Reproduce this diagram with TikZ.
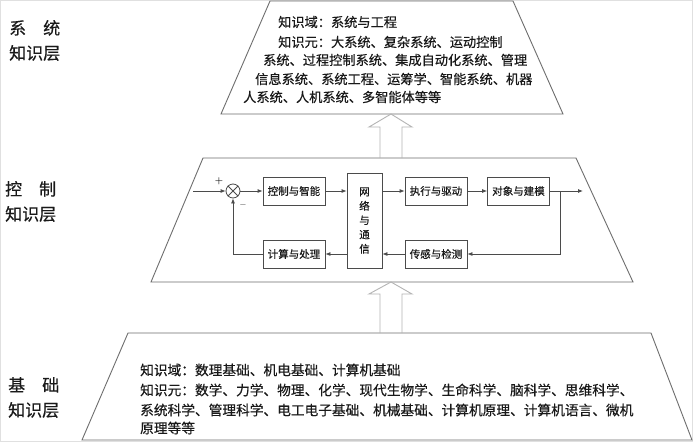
\documentclass[tikz,border=0pt]{standalone}
\usepackage{fontspec}
\newfontfamily\cjk[FakeBold=0.4]{Noto Sans CJK SC}
\usetikzlibrary{arrows.meta, positioning}
\definecolor{lngray}{RGB}{75, 75, 75}
\definecolor{edgegray}{RGB}{110, 110, 110}
\definecolor{hollowgray}{RGB}{180, 180, 180}
\definecolor{txtgray}{RGB}{25, 25, 25}

\begin{document}
\begin{tikzpicture}[x=1pt, y=-1pt,
  layer/.style={draw=edgegray, line width=0.9pt},
  blk/.style={draw=lngray, line width=0.8pt, font=\cjk\fontsize{10.5}{12}\selectfont, text=txtgray, minimum width=62pt, minimum height=28pt, inner sep=0pt},
  arr/.style={-{Latex[length=5pt, width=4pt]}, draw=lngray, line width=0.8pt},
  info/.style={anchor=west, inner sep=0pt, font=\cjk\fontsize{13.2}{15}\selectfont, text=txtgray},
  side/.style={anchor=west, inner sep=0pt, align=left, font=\cjk\fontsize{17}{25}\selectfont, text=txtgray},
  uparr/.style={draw=hollowgray, line width=0.9pt},
]
  \useasboundingbox (0,0) rectangle (693,442);
  \fill[white] (0,0) rectangle (693,442);
  \draw[black!12] (0.5,0.5) rectangle (692.5,441.5);

  % three layers
  \draw[layer] (270,1) -- (513,1) -- (563,114) -- (221,114) -- cycle;
  \draw[layer] (203,158) -- (576,158) -- (633,282) -- (151,282) -- cycle;
  \draw[layer] (82,440) -- (128,333) -- (651,333) -- (692,440) -- cycle;

  % hollow arrows between layers
  \draw[uparr] (380,158) -- (380,127) -- (369,127) -- (391,114) -- (412,127) -- (402,127) -- (402,158);
  \draw[uparr] (380,333) -- (380,294) -- (369,294) -- (391,282) -- (412,294) -- (402,294) -- (402,333);

  % layer names
  \node[side] (sysname)  at (9,40.5)  {系\hspace{1em}统\\知识层};
  \node[side] (ctlname)  at (5,201.5) {控\hspace{1em}制\\知识层};
  \node[side] (basename) at (8,397.5) {基\hspace{1em}础\\知识层};

  % system layer text
  \node[info] (sys1) at (278,22) {知识域：系统与工程};
  \node[info] (sys2) at (278,42) {知识元：大系统、复杂系统、运动控制};
  \node[info] (sys3) at (263,60) {系统、过程控制系统、集成自动化系统、管理};
  \node[info] (sys4) at (255,79) {信息系统、系统工程、运筹学、智能系统、机器};
  \node[info] (sys5) at (243,97) {人系统、人机系统、多智能体等等};

  % base layer text
  \node[info, font=\cjk\fontsize{13.7}{15}\selectfont] (base1) at (140,370) {知识域：数理基础、机电基础、计算机基础};
  \node[info, font=\cjk\fontsize{13.7}{15}\selectfont] (base2) at (140,390) {知识元：数学、力学、物理、化学、现代生物学、生命科学、脑科学、思维科学、};
  \node[info, font=\cjk\fontsize{13.7}{15}\selectfont] (base3) at (140,410) {系统科学、管理科学、电工电子基础、机械基础、计算机原理、计算机语言、微机};
  \node[info, font=\cjk\fontsize{13.7}{15}\selectfont] (base4) at (140,428) {原理等等};

  % control loop
  \node[circle, draw=lngray, line width=0.8pt, minimum size=14pt, inner sep=0pt] (sum) at (233,191) {};
  \draw[lngray, line width=0.8pt] (sum.north west) -- (sum.south east) (sum.north east) -- (sum.south west);
  \node[font=\small\bfseries, text=txtgray] (plus) at (219,181) {+};
  \node[font=\small\bfseries, text=txtgray] (minus) at (243,206) {--};

  \node[blk] (ctrl) at (294,191) {控制与智能};
  \node[blk, minimum width=35pt, minimum height=95pt, align=center, font=\cjk\fontsize{10.5}{14.3}\selectfont] (net) at (364.5,220.5) {网\\络\\与\\通\\信};
  \node[blk] (exec) at (436,191) {执行与驱动};
  \node[blk] (obj)  at (518.5,191) {对象与建模};
  \node[blk] (sens) at (436,254) {传感与检测};
  \node[blk] (comp) at (294,254) {计算与处理};

  \coordinate (in)  at (193,191);
  \coordinate (out) at (583,191);
  \coordinate (tap) at (560,191);

  \draw[arr] (in) -- (sum);
  \draw[arr] (sum) -- (ctrl);
  \draw[arr] (ctrl) -- (ctrl -| net.west);
  \draw[arr] (ctrl -| net.east) -- (exec);
  \draw[arr] (exec) -- (obj);
  \draw[arr] (obj) -- (out);
  \draw[arr] (tap) |- (sens);
  \draw[arr] (sens) -- (sens -| net.east);
  \draw[arr] (sens -| net.west) -- (comp);
  \draw[arr] (comp) -| (sum);
\end{tikzpicture}
\end{document}
